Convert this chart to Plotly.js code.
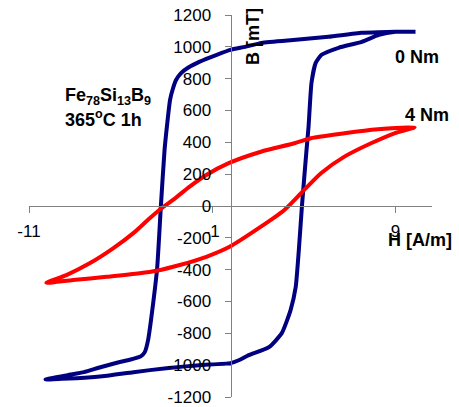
<!DOCTYPE html>
<html>
<head>
<meta charset="utf-8">
<script src="https://cdn.plot.ly/plotly-3.0.1.min.js"></script>
<style>
  html, body { margin: 0; padding: 0; background: #fff; }
  #chart { width: 459px; height: 407px; }
</style>
</head>
<body>
<div id="chart"></div>
<script>
// Hysteresis loop, 0 Nm: descending branch (from +Hmax) then ascending branch (from -Hmax)
const h0Nm = [10.1, 9.0, 8.1, 7.16, 5.35, 3.57, 1.7, 0.8, 0, -0.75, -1.68, -2.3, -2.7, -2.98, -3.15, -3.3, -3.45, -3.6, -3.8, -4.0, -4.2, -4.5, -4.68, -4.9, -5.4, -6.2, -7.1, -8.0, -8.9, -10.1,
              -9.2, -8.4, -7.0, -5.3, -3.5, -1.7, 0, 0.45, 1.0, 2.1, 2.8, 3.28, 3.56, 3.73, 3.9, 4.15, 4.26, 4.42, 4.65, 4.97, 5.9, 7.16, 8.1, 9.0, 10.1];
const b0Nm = [1095, 1094, 1092, 1088, 1063, 1044, 1025, 1000, 981, 950, 907, 870, 835, 790, 735, 667, 522, 352, 0, -384, -591, -843, -918, -945, -963, -985, -1013, -1044, -1063, -1090,
              -1086, -1082, -1070, -1044, -1019, -1000, -987, -969, -937, -887, -799, -654, -509, -277, 0, 352, 497, 773, 899, 950, 994, 1031, 1075, 1094, 1095];

// Hysteresis loop, 4 Nm
const h4Nm = [10.05, 8.04, 6.22, 4.39, 3.49, 1.66, -0.1, -1.32, -2.23, -3.14, -3.77, -4.41, -5.32, -6.41, -7.69, -8.96, -10.05,
              -8.6, -6.77, -4.96, -4.04, -2.77, -1.32, -0.05, 1.66, 2.94, 3.85, 4.94, 6.22, 7.67, 8.95, 10.05];
const b4Nm = [495, 482, 457, 426, 394, 341, 269, 195, 122, 38, -14, -77, -172, -266, -360, -434, -482,
              -465, -445, -423, -407, -371, -319, -256, -130, -25, 80, 206, 310, 394, 457, 495];

const yTicks = [-1200, -1000, -800, -600, -400, -200, 0, 200, 400, 600, 800, 1000, 1200];
const xTicks = [-11, -1, 9];

const FONT = 'Liberation Sans, Arial, sans-serif';

const traces = [
  { x: h0Nm, y: b0Nm, mode: 'lines', name: '0 Nm',
    line: { color: '#000080', width: 4, shape: 'spline', smoothing: 0.5 } },
  { x: h4Nm, y: b4Nm, mode: 'lines', name: '4 Nm',
    line: { color: '#FF0000', width: 4, shape: 'spline', smoothing: 0.7 } }
];

const axisCommon = {
  showgrid: false, zeroline: false, showline: true,
  linecolor: '#808080', linewidth: 1,
  ticks: 'outside', ticklen: 6, tickcolor: '#808080', tickwidth: 1,
  tickfont: { family: FONT, size: 17, color: '#000' },
  anchor: 'free', position: 0.5, fixedrange: true
};

const layout = {
  width: 459, height: 407,
  margin: { l: 29, r: 27, t: 15, b: 10 },
  paper_bgcolor: '#fff', plot_bgcolor: '#fff',
  showlegend: false,
  xaxis: Object.assign({}, axisCommon, {
    range: [-11, 11], tickmode: 'array', tickvals: xTicks,
    ticktext: xTicks.map(String), ticklabelstandoff: 4
  }),
  yaxis: Object.assign({}, axisCommon, {
    range: [-1200, 1200], tickmode: 'array', tickvals: yTicks,
    ticktext: yTicks.map(String), ticklabelstandoff: 10
  }),
  annotations: [
    { text: '<b>Fe<sub>78</sub>Si<sub>13</sub>B<sub>9</sub></b>', xref: 'paper', yref: 'paper',
      x: (63 - 29) / 403, y: (397 - 97) / 382, xanchor: 'left', yanchor: 'middle', showarrow: false,
      font: { family: FONT, size: 18, color: '#000' } },
    { text: '<b>365<sup>o</sup>C 1h</b>', xref: 'paper', yref: 'paper',
      x: (63 - 29) / 403, y: (397 - 119) / 382, xanchor: 'left', yanchor: 'middle', showarrow: false,
      font: { family: FONT, size: 18, color: '#000' } },
    { text: '<b>0 Nm</b>', xref: 'paper', yref: 'paper',
      x: (417 - 29) / 403, y: (397 - 57) / 382, xanchor: 'center', yanchor: 'middle', showarrow: false,
      font: { family: FONT, size: 18, color: '#000' } },
    { text: '<b>4 Nm</b>', xref: 'paper', yref: 'paper',
      x: (427 - 29) / 403, y: (397 - 115) / 382, xanchor: 'center', yanchor: 'middle', showarrow: false,
      font: { family: FONT, size: 18, color: '#000' } },
    { text: '<b>H [A/m]</b>', xref: 'paper', yref: 'paper',
      x: (420 - 29) / 403, y: (397 - 240) / 382, xanchor: 'center', yanchor: 'middle', showarrow: false,
      font: { family: FONT, size: 18, color: '#000' } },
    { text: '<b>B [mT]</b>', xref: 'paper', yref: 'paper', textangle: -90,
      x: (253 - 29) / 403, y: (397 - 37) / 382, xanchor: 'center', yanchor: 'middle', showarrow: false,
      font: { family: FONT, size: 18, color: '#000' } }
  ]
};

Plotly.newPlot('chart', traces, layout, { displayModeBar: false, staticPlot: true });
</script>
</body>
</html>
